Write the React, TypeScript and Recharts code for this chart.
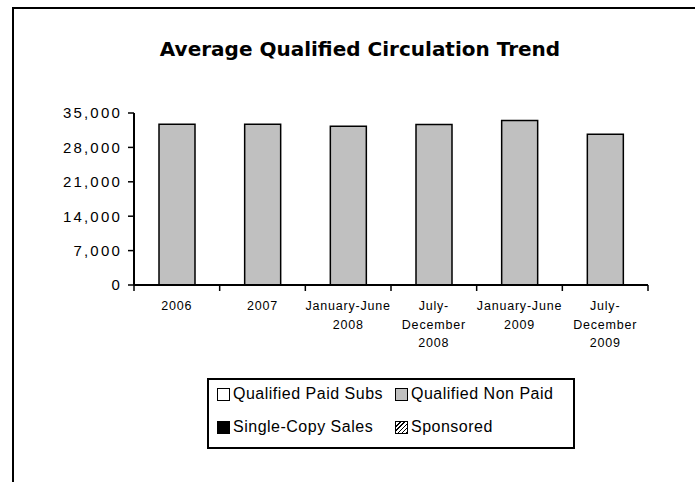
import { BarChart, Bar, XAxis, YAxis } from 'recharts';

// categories and values
const categories = ['2006', '2007', 'January-June 2008', 'July-December 2008', 'January-June 2009', 'July-December 2009'];
const tickLines = [
    ['2006'],
    ['2007'],
    ['January-June', '2008'],
    ['July-', 'December', '2008'],
    ['January-June', '2009'],
    ['July-', 'December', '2009'],
];
const qualifiedPaidSubs = [0, 0, 0, 0, 0, 0];
const qualifiedNonPaid = [32700, 32700, 32300, 32640, 33450, 30670];
const singleCopySales = [0, 0, 0, 0, 0, 0];
const sponsored = [0, 0, 0, 0, 0, 0];
const yTicks = [0, 7000, 14000, 21000, 28000, 35000];

const series = [
    { key: 'paid', name: 'Qualified Paid Subs', fill: '#ffffff' },
    { key: 'nonPaid', name: 'Qualified Non Paid', fill: '#c0c0c0' },
    { key: 'single', name: 'Single-Copy Sales', fill: '#000000' },
    { key: 'sponsored', name: 'Sponsored', fill: 'url(#hatch)' },
];

const data = categories.map((name, i) => ({
    name,
    paid: qualifiedPaidSubs[i],
    nonPaid: qualifiedNonPaid[i],
    single: singleCopySales[i],
    sponsored: sponsored[i],
}));

const W = 695;
const H = 482;
const PLOT_LEFT = 134;
const PLOT_RIGHT = 648;
const PLOT_TOP = 113;
const PLOT_BOTTOM = 285;
const X_AXIS_H = 60;
const BAND = (PLOT_RIGHT - PLOT_LEFT) / categories.length;

const CategoryTick = (props: any) => {
    const { x, index } = props;
    const lines = tickLines[index] || [];
    const left = x - BAND / 2;
    const right = x + BAND / 2;
    return (
        <g>
            <line x1={left} x2={left} y1={PLOT_BOTTOM} y2={PLOT_BOTTOM + 6} stroke="#000" strokeWidth={1.5} />
            {index === categories.length - 1 && (
                <line x1={right} x2={right} y1={PLOT_BOTTOM} y2={PLOT_BOTTOM + 6} stroke="#000" strokeWidth={1.5} />
            )}
            {lines.map((t, i) => (
                <text
                    key={i}
                    x={x}
                    y={PLOT_BOTTOM + 25 + i * 18.6}
                    textAnchor="middle"
                    fontSize={12.5}
                    letterSpacing={0.8}
                    fill="#000"
                    fontFamily="'Liberation Sans', Arial, sans-serif"
                >
                    {t}
                </text>
            ))}
        </g>
    );
};

const swatchStyle = (fill: string) => {
    const base: any = {
        width: 13,
        height: 13,
        boxSizing: 'border-box',
        border: '1.5px solid #000',
        flex: 'none',
    };
    if (fill.startsWith('url')) {
        base.background = 'repeating-linear-gradient(-45deg, #000 0px, #000 1px, #fff 1px, #fff 3px)';
    } else {
        base.background = fill;
    }
    return base;
};

const legendPos = [
    { left: 8, top: 4 },
    { left: 186, top: 4 },
    { left: 8, top: 37 },
    { left: 186, top: 37 },
];

const App = () => {
    return (
        <div style={{ position: 'absolute', left: 0, top: 0, width: W, height: H, background: '#fff', overflow: 'hidden' }}>
            <div
                style={{
                    position: 'absolute',
                    left: 12,
                    top: 7,
                    width: 720,
                    height: 520,
                    borderLeft: '2px solid #000',
                    borderTop: '2px solid #000',
                }}
            />
            <div
                style={{
                    position: 'absolute',
                    left: 60,
                    top: 39,
                    width: 600,
                    textAlign: 'center',
                    fontFamily: "'DejaVu Sans', sans-serif",
                    fontWeight: 'bold',
                    fontSize: 20,
                    lineHeight: '20px',
                    color: '#000',
                }}
            >
                Average Qualified Circulation Trend
            </div>
            <div style={{ position: 'absolute', left: 0, top: 0 }}>
                <BarChart
                    width={W}
                    height={H}
                    data={data}
                    barSize={36}
                    margin={{ top: PLOT_TOP, right: W - PLOT_RIGHT, bottom: H - PLOT_BOTTOM - X_AXIS_H, left: 0 }}
                >
                    <defs>
                        <pattern id="hatch" width="4" height="4" patternUnits="userSpaceOnUse" patternTransform="rotate(45)">
                            <rect width="4" height="4" fill="#fff" />
                            <line x1="0" y1="0" x2="0" y2="4" stroke="#000" strokeWidth="1" />
                        </pattern>
                    </defs>
                    <XAxis
                        dataKey="name"
                        height={X_AXIS_H}
                        interval={0}
                        tickLine={false}
                        axisLine={{ stroke: '#000', strokeWidth: 2 }}
                        tick={<CategoryTick />}
                    />
                    <YAxis
                        width={PLOT_LEFT}
                        domain={[0, 35000]}
                        ticks={yTicks}
                        interval={0}
                        tickSize={6}
                        tickMargin={6}
                        axisLine={{ stroke: '#000', strokeWidth: 2 }}
                        tickLine={{ stroke: '#000', strokeWidth: 1.5 }}
                        tick={{ fill: '#000', fontSize: 15, letterSpacing: 2.2, fontFamily: "'Liberation Sans', Arial, sans-serif" }}
                        tickFormatter={(v: number) => v.toLocaleString('en-US')}
                    />
                    {series.map((s) => (
                        <Bar
                            key={s.key}
                            dataKey={s.key}
                            name={s.name}
                            stackId="a"
                            fill={s.fill}
                            stroke="#000"
                            strokeWidth={1.5}
                            isAnimationActive={false}
                        />
                    ))}
                </BarChart>
            </div>
            <div
                style={{
                    position: 'absolute',
                    left: 207,
                    top: 378,
                    width: 368,
                    height: 71,
                    boxSizing: 'border-box',
                    border: '2px solid #000',
                    fontFamily: "'Liberation Sans', Arial, sans-serif",
                    fontSize: 16,
                    letterSpacing: 0.5,
                    color: '#000',
                }}
            >
                {series.map((s, i) => (
                    <div
                        key={s.key}
                        style={{
                            position: 'absolute',
                            left: legendPos[i].left,
                            top: legendPos[i].top,
                            height: 20,
                            display: 'flex',
                            alignItems: 'center',
                            whiteSpace: 'nowrap',
                        }}
                    >
                        <div style={swatchStyle(s.fill)} />
                        <span style={{ marginLeft: 3 }}>{s.name}</span>
                    </div>
                ))}
            </div>
        </div>
    );
};

export default App;
